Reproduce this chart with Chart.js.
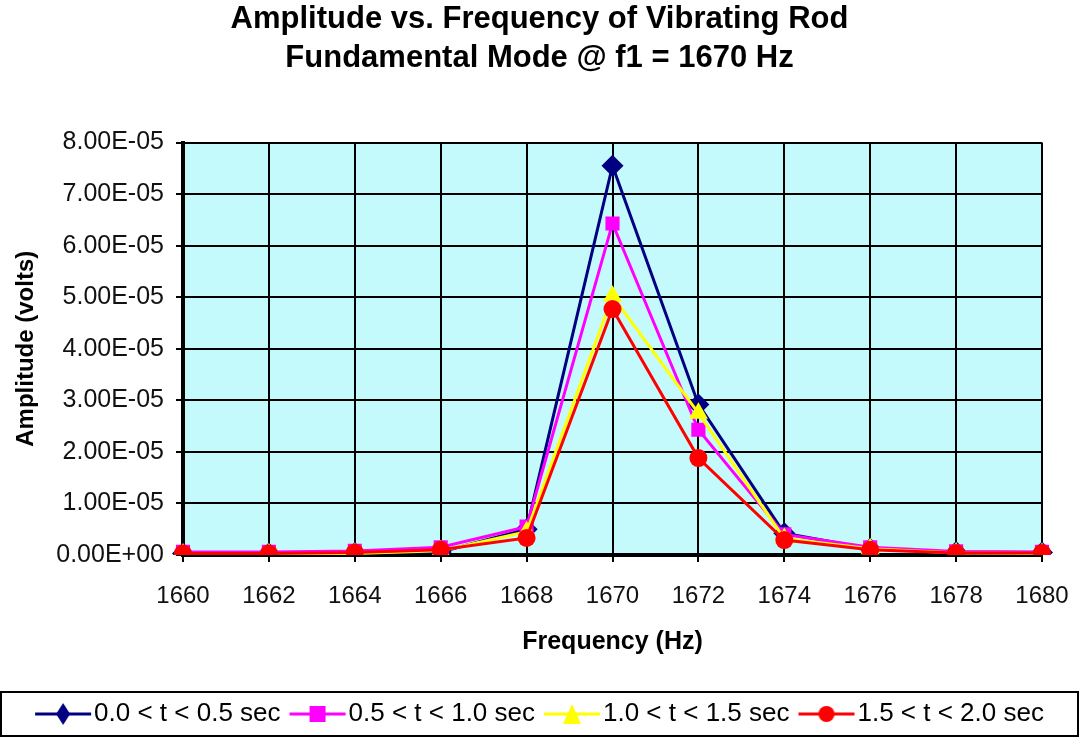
<!DOCTYPE html>
<html>
<head>
<meta charset="utf-8">
<script src="https://cdn.jsdelivr.net/npm/chart.js@4/dist/chart.umd.min.js"></script>
<style>
  html, body { margin: 0; padding: 0; background: #fff; }
  #wrap { width: 1079px; height: 737px; }
</style>
</head>
<body>
<div id="wrap"><canvas id="chart" width="1079" height="737"></canvas></div>
<script>
var frequencies = ['1660', '1662', '1664', '1666', '1668', '1670', '1672', '1674', '1676', '1678', '1680']

// amplitudes in volts
var amp_0_05 = [0.03e-5, 0.03e-5, 0.04e-5, 0.06e-5, 0.50e-5, 7.55e-5, 2.92e-5, 0.42e-5, 0.12e-5, 0.06e-5, 0.05e-5]
var amp_05_10 = [0.06e-5, 0.06e-5, 0.08e-5, 0.15e-5, 0.55e-5, 6.43e-5, 2.43e-5, 0.40e-5, 0.15e-5, 0.07e-5, 0.06e-5]
var amp_10_15 = [0.02e-5, 0.02e-5, 0.03e-5, 0.08e-5, 0.45e-5, 5.02e-5, 2.75e-5, 0.32e-5, 0.12e-5, 0.04e-5, 0.03e-5]
var amp_15_20 = [0.03e-5, 0.03e-5, 0.05e-5, 0.10e-5, 0.33e-5, 4.77e-5, 1.88e-5, 0.29e-5, 0.10e-5, 0.04e-5, 0.04e-5]

var seriesLabels = ['0.0 < t < 0.5 sec', '0.5 < t < 1.0 sec', '1.0 < t < 1.5 sec', '1.5 < t < 2.0 sec']

var FONT = '"Liberation Sans", Arial, sans-serif'

function sciLabel(v) {
  var s = Number(v).toExponential(2)
  var parts = s.split('e')
  var exp = parseInt(parts[1], 10)
  var sign = exp < 0 ? '-' : '+'
  var e = Math.abs(exp)
  return parts[0] + 'E' + sign + (e < 10 ? '0' + e : e)
}

// little line + marker icons for the legend (left 12px left blank so the
// icon sits right up against its text once chart.js centres it)
function legendIcon(color, style) {
  var c = document.createElement('canvas')
  c.width = 70
  c.height = 24
  var g = c.getContext('2d')
  g.translate(12, 0)
  g.strokeStyle = color
  g.fillStyle = color
  g.lineWidth = 3
  g.beginPath()
  g.moveTo(0, 12)
  g.lineTo(56, 12)
  g.stroke()
  g.beginPath()
  if (style === 'rectRot') {
    g.moveTo(28, 1); g.lineTo(35, 12); g.lineTo(28, 23); g.lineTo(21, 12)
  } else if (style === 'rect') {
    g.rect(20, 4, 16, 16)
  } else if (style === 'triangle') {
    g.moveTo(28, 2); g.lineTo(37, 22); g.lineTo(19, 22)
  } else {
    g.arc(28, 12, 8, 0, Math.PI * 2)
  }
  g.closePath()
  g.fill()
  return c
}

var plotBg = {
  id: 'plotBg',
  beforeDraw(chart) {
    var a = chart.chartArea
    var c = chart.ctx
    c.save()
    c.fillStyle = '#c4fafc'
    c.fillRect(a.left, a.top, a.right - a.left, a.bottom - a.top)
    c.restore()
  },
  afterDraw(chart) {
    var c = chart.ctx
    var top = chart.legend.top
    c.save()
    c.strokeStyle = '#000'
    c.lineWidth = 2
    c.strokeRect(1, top, chart.width - 2, chart.height - top - 1)
    c.restore()
  }
}

var ctx = document.getElementById('chart').getContext('2d')

var datasets = [
  { label: seriesLabels[0], data: amp_0_05, borderColor: '#000080', backgroundColor: '#000080', pointStyle: 'rectRot', pointRadius: 11, order: 3 },
  { label: seriesLabels[1], data: amp_05_10, borderColor: '#ff00ff', backgroundColor: '#ff00ff', pointStyle: 'rect', pointRadius: 10, order: 2 },
  { label: seriesLabels[2], data: amp_10_15, borderColor: '#ffff00', backgroundColor: '#ffff00', pointStyle: 'triangle', pointRadius: 11, order: 1 },
  { label: seriesLabels[3], data: amp_15_20, borderColor: '#ff0000', backgroundColor: '#ff0000', pointStyle: 'circle', pointRadius: 9, order: 0 },
]
datasets.forEach(function (d) {
  d.borderWidth = 3
  d.pointBorderWidth = 0
  d.tension = 0
  d.fill = false
})

var chart = new Chart(ctx, {
  type: 'line',
  data: { labels: frequencies, datasets: datasets },
  plugins: [plotBg],
  options: {
    responsive: false,
    animation: false,
    layout: { padding: 0 },
    plugins: {
      tooltip: { enabled: false },
      title: {
        display: true,
        text: ['Amplitude vs. Frequency of Vibrating Rod', 'Fundamental Mode @ f1 = 1670 Hz'],
        color: '#000',
        font: { family: FONT, size: 31, weight: 'bold', lineHeight: 1.25 },
        padding: { top: 0, bottom: 65 },
      },
      legend: {
        position: 'bottom',
        align: 'center',
        labels: {
          color: '#000',
          font: { family: FONT, size: 26 },
          usePointStyle: true,
          pointStyleWidth: 46,
          boxHeight: 24,
          padding: 9,
          generateLabels(chart) {
            var styles = ['rectRot', 'rect', 'triangle', 'circle']
            return chart.data.datasets.map(function (d, i) {
              return {
                text: d.label,
                fontColor: '#000',
                pointStyle: legendIcon(d.borderColor, styles[i]),
                datasetIndex: i,
                lineWidth: 0,
                hidden: false,
              }
            })
          },
        },
      },
    },
    scales: {
      x: {
        type: 'category',
        offset: false,
        grid: { color: '#000', lineWidth: 2, tickLength: 7, tickColor: '#000' },
        border: { color: '#000', width: 4 },
        ticks: { color: '#111', font: { family: FONT, size: 24 }, padding: 20, maxRotation: 0, autoSkip: false },
        title: {
          display: true,
          text: 'Frequency (Hz)',
          color: '#000',
          font: { family: FONT, size: 25, weight: 'bold' },
          padding: { top: 16, bottom: 35 },
        },
        afterFit: function (scale) {
          scale.height = 137
          scale.paddingLeft = 0
          scale.paddingRight = 0
        },
      },
      y: {
        min: 0,
        max: 8e-5,
        grid: { color: '#000', lineWidth: 2, tickLength: 7, tickColor: '#000' },
        border: { color: '#000', width: 4 },
        ticks: {
          stepSize: 1e-5,
          color: '#111',
          font: { family: FONT, size: 25 },
          padding: 12,
          callback: function (v) { return sciLabel(v) },
        },
        title: {
          display: true,
          text: 'Amplitude (volts)',
          color: '#000',
          font: { family: FONT, size: 24, weight: 'bold' },
          padding: { top: 12, bottom: 10 },
        },
        afterFit: function (scale) { scale.width = 183 },
      },
      // empty right-hand axis, only keeps the gap right of the plot
      yRight: {
        position: 'right',
        display: true,
        grid: { display: false, drawOnChartArea: false },
        border: { display: false },
        ticks: { display: false },
        afterFit: function (scale) { scale.width = 37 },
      },
    },
  },
})
</script>
</body>
</html>
